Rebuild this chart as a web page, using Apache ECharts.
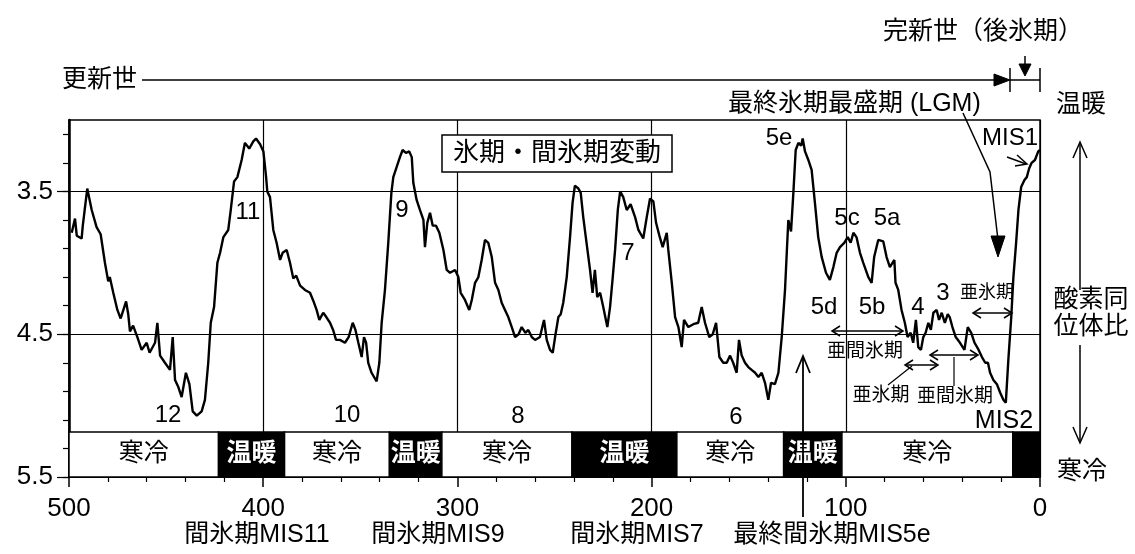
<!DOCTYPE html>
<html>
<head>
<meta charset="utf-8">
<script src="https://cdn.jsdelivr.net/npm/echarts@6/dist/echarts.min.js"></script>
<style>
  html, body { margin: 0; padding: 0; background: #fff; }
  #chart { width: 1135px; height: 554px; }
</style>
</head>
<body>
<div id="chart"></div>
<script>
// age in ka (thousand years ago)
const ages = [
  498.6, 496.9, 496.0, 493.5, 492.9, 490.6, 488.3, 485.8, 483.7, 481.5, 479.8, 479.0, 477.2, 475.1, 473.4, 472.0,
  470.6, 469.5, 468.6, 467.0, 464.8, 462.6, 460.0, 458.5, 455.7, 454.5, 453.1, 450.6, 448.0, 446.6, 445.4, 443.7,
  442.0, 439.8, 438.0, 436.3, 434.2, 431.7, 430.0, 428.3, 427.0, 425.3, 423.6, 422.2, 420.5, 418.0, 416.7, 415.0,
  413.3, 411.1, 409.4, 407.2, 405.1, 403.7, 401.6, 399.9, 398.5, 397.9, 396.5, 394.8, 393.1, 391.3, 390.0, 387.9,
  386.2, 384.5, 383.0, 381.0, 378.5, 375.9, 373.8, 372.5, 371.1, 369.1, 367.5, 365.6, 364.0, 362.5, 360.5, 357.9,
  356.0, 353.9, 352.5, 351.0, 349.3, 348.1, 347.0, 345.9, 344.2, 341.6, 340.2, 339.0, 337.3, 335.6, 334.0, 333.0,
  331.3, 329.6, 328.2, 326.5, 324.8, 323.5, 322.7, 321.0, 319.3, 317.5, 316.7, 315.5, 314.1, 312.7, 311.0, 309.3,
  307.2, 305.5, 303.8, 301.2, 299.5, 298.3, 296.1, 293.9, 292.6, 290.9, 289.2, 287.5, 285.8, 284.1, 282.3, 280.6,
  278.9, 277.2, 275.5, 273.8, 272.0, 270.3, 268.5, 266.9, 265.0, 263.5, 261.7, 260.0, 257.5, 255.4, 254.0, 252.3,
  250.9, 249.7, 248.0, 246.8, 245.5, 243.7, 242.0, 240.7, 239.5, 237.7, 236.5, 235.2, 233.5, 231.7, 230.4, 229.2,
  228.0, 226.5, 224.9, 222.8, 221.4, 220.0, 218.8, 217.4, 216.2, 214.6, 212.8, 210.8, 208.5, 206.8, 204.3, 202.5,
  200.8, 199.1, 197.7, 196.0, 194.3, 192.2, 191.4, 189.6, 187.9, 186.2, 184.5, 183.3, 181.1, 178.5, 176.0, 174.2,
  172.5, 170.3, 168.5, 166.8, 165.1, 163.1, 161.3, 159.6, 158.0, 156.2, 155.0, 153.6, 151.9, 150.2, 148.5, 146.7,
  145.0, 143.3, 141.6, 139.9, 138.5, 136.5, 134.7, 133.0, 131.3, 129.6, 128.2, 127.0, 125.8, 124.4, 123.0, 122.2,
  121.0, 119.3, 117.6, 115.9, 114.2, 112.4, 110.2, 108.2, 106.4, 104.7, 103.0, 100.8, 99.0, 97.5, 96.1, 94.5,
  92.7, 91.0, 88.4, 86.7, 85.4, 83.3, 80.7, 79.0, 77.3, 75.0, 74.4, 73.0, 71.3, 69.6, 68.2, 66.6,
  65.3, 63.9, 62.7, 61.3, 60.1, 58.9, 57.5, 56.2, 54.9, 53.2, 52.0, 50.6, 49.0, 47.5, 46.5, 45.1,
  43.4, 41.2, 38.9, 37.2, 35.4, 33.7, 31.6, 29.9, 28.2, 26.8, 25.7, 24.0, 22.2, 20.5, 18.8, 17.6,
  16.3, 14.8, 13.7, 12.3, 11.1, 9.7, 8.0, 6.8, 5.6, 4.3, 2.6, 0.9, 0.0
];
// oxygen isotope ratio (per mil)
const d18O = [
  3.79, 3.69, 3.81, 3.83, 3.74, 3.48, 3.63, 3.75, 3.80, 4.00, 4.13, 4.10, 4.21, 4.33, 4.39, 4.33,
  4.27, 4.36, 4.48, 4.44, 4.52, 4.61, 4.56, 4.63, 4.56, 4.42, 4.65, 4.70, 4.75, 4.52, 4.82, 4.87,
  4.94, 4.77, 4.85, 5.04, 5.07, 5.04, 4.96, 4.70, 4.42, 4.31, 4.00, 3.93, 3.82, 3.77, 3.63, 3.43,
  3.40, 3.28, 3.16, 3.20, 3.15, 3.13, 3.17, 3.22, 3.40, 3.50, 3.54, 3.77, 3.86, 3.98, 3.93, 3.91,
  4.00, 4.11, 4.09, 4.16, 4.19, 4.21, 4.28, 4.33, 4.40, 4.35, 4.38, 4.42, 4.47, 4.54, 4.54, 4.56,
  4.52, 4.42, 4.47, 4.56, 4.66, 4.52, 4.56, 4.70, 4.77, 4.83, 4.70, 4.42, 4.19, 3.86, 3.51, 3.40,
  3.33, 3.26, 3.21, 3.23, 3.22, 3.26, 3.44, 3.56, 3.63, 3.70, 3.89, 3.72, 3.65, 3.74, 3.74, 3.79,
  3.91, 4.05, 4.07, 4.05, 4.10, 4.21, 4.26, 4.33, 4.26, 4.14, 4.10, 3.98, 3.84, 3.86, 3.96, 4.14,
  4.19, 4.28, 4.33, 4.38, 4.45, 4.52, 4.50, 4.45, 4.49, 4.47, 4.52, 4.54, 4.52, 4.40, 4.54, 4.61,
  4.63, 4.52, 4.38, 4.36, 4.28, 4.10, 3.82, 3.58, 3.46, 3.48, 3.51, 3.68, 3.86, 4.05, 4.21, 4.05,
  4.24, 4.21, 4.31, 4.45, 4.31, 4.10, 3.91, 3.63, 3.50, 3.54, 3.63, 3.59, 3.68, 3.77, 3.83, 3.68,
  3.55, 3.57, 3.72, 3.81, 3.89, 3.79, 3.91, 4.14, 4.38, 4.45, 4.59, 4.40, 4.45, 4.43, 4.42, 4.31,
  4.42, 4.52, 4.50, 4.42, 4.66, 4.70, 4.70, 4.65, 4.70, 4.77, 4.54, 4.65, 4.70, 4.73, 4.75, 4.77,
  4.80, 4.77, 4.84, 4.96, 4.84, 4.85, 4.77, 4.52, 4.19, 3.70, 3.78, 3.51, 3.21, 3.16, 3.18, 3.13,
  3.22, 3.28, 3.35, 3.58, 3.82, 3.96, 4.07, 4.12, 4.03, 3.93, 3.89, 3.86, 3.82, 3.86, 3.79, 3.82,
  3.93, 4.00, 4.10, 4.14, 3.96, 3.84, 3.85, 3.96, 4.03, 3.98, 4.14, 4.19, 4.33, 4.42, 4.52, 4.49,
  4.56, 4.40, 4.59, 4.61, 4.52, 4.49, 4.42, 4.47, 4.35, 4.33, 4.40, 4.35, 4.42, 4.36, 4.38, 4.45,
  4.52, 4.56, 4.61, 4.45, 4.49, 4.56, 4.61, 4.66, 4.70, 4.70, 4.77, 4.82, 4.85, 4.91, 4.96, 4.98,
  4.68, 4.38, 4.10, 3.86, 3.63, 3.47, 3.42, 3.40, 3.34, 3.30, 3.28, 3.22, 3.21
];

// climate bands along the bottom of the plot
const bandFrom  = [500, 423, 389, 335, 308, 241, 187, 132, 102, 14];
const bandTo    = [423, 389, 335, 308, 241, 187, 132, 102, 14, 0];
const bandLabel = ['寒冷', '温暖', '寒冷', '温暖', '寒冷', '温暖', '寒冷', '温暖', '寒冷', ''];
const bandWarm  = [false, true, false, true, false, true, false, true, false, true];
const bandTop = 5.185;

const FONT = '"Liberation Sans", "Noto Sans CJK JP", sans-serif';

const chart = echarts.init(document.getElementById('chart'));

const curve = ages.map((a, i) => [a, d18O[i]]);

const bands = bandFrom.map((f, i) => [
  {
    xAxis: f, yAxis: bandTop, name: bandLabel[i],
    itemStyle: { color: bandWarm[i] ? '#000' : '#fff', borderColor: '#000', borderWidth: 1.5, opacity: 1 },
    label: { color: bandWarm[i] ? '#fff' : '#000', fontWeight: bandWarm[i] ? 'bold' : 'normal' }
  },
  { xAxis: bandTo[i], yAxis: 5.5 }
]);

// annotation helpers
function txt(s, x, y, size, align) {
  return {
    type: 'text', x: x, y: y, z: 10,
    style: {
      text: s, fill: '#000', font: (size || 25) + 'px ' + FONT,
      textAlign: align || 'center', textVerticalAlign: 'middle'
    }
  };
}
function pl(points, w) {
  return { type: 'polyline', z: 10, shape: { points: points }, style: { stroke: '#000', lineWidth: w || 1.5, fill: null } };
}
function tri(points) {
  return { type: 'polygon', z: 10, shape: { points: points }, style: { fill: '#000', stroke: '#000', lineWidth: 1 } };
}
function dbl(x1, x2, y) {
  return [
    pl([[x1, y], [x2, y]], 1.5),
    pl([[x1 + 8, y - 5], [x1, y], [x1 + 8, y + 5]], 1.5),
    pl([[x2 - 8, y - 5], [x2, y], [x2 - 8, y + 5]], 1.5)
  ];
}

const graphics = [
  // epoch line on top
  txt('更新世', 62, 80, 25, 'left'),
  pl([[142, 80], [1000, 80]], 1.5),
  tri([[994, 74], [1010, 80], [994, 86]]),
  pl([[1010, 80], [1040, 80]], 1.5),
  pl([[1010, 68], [1010, 92]], 1.5),
  pl([[1040, 68], [1040, 92]], 1.5),
  pl([[1025, 56], [1025, 74]], 1.5),
  tri([[1019, 64], [1025, 76], [1031, 64]]),
  txt('完新世（後氷期）', 983, 32, 25),
  txt('最終氷期最盛期 (LGM)', 728, 104, 25, 'left'),
  pl([[963, 113], [990, 172], [998, 240]], 1.5),
  tri([[991, 236], [998, 257], [1005, 236]]),
  txt('MIS1', 1010, 138, 24),
  pl([[1007, 157], [1026, 164]], 1.5),
  pl([[1017, 155], [1027, 164], [1015, 166]], 1.5),
  // right side
  txt('温暖', 1081, 105, 25),
  txt('寒冷', 1082, 472, 25),
  txt('酸素同', 1091, 300, 25),
  txt('位体比', 1091, 327, 25),
  pl([[1080, 143], [1080, 290]], 1.5),
  pl([[1073, 158], [1080, 142], [1087, 158]], 1.5),
  pl([[1080, 345], [1080, 442]], 1.5),
  pl([[1073, 427], [1080, 443], [1087, 427]], 1.5),
  // title box
  { type: 'rect', z: 9, shape: { x: 442, y: 135, width: 230, height: 37 }, style: { fill: '#fff', stroke: '#000', lineWidth: 1.5 } },
  txt('氷期・間氷期変動', 557, 154, 26),
  // MIS stage numbers
  txt('11', 248, 212, 24),
  txt('12', 168, 415, 24),
  txt('10', 347, 415, 24),
  txt('9', 402, 210, 24),
  txt('8', 518, 416, 24),
  txt('7', 628, 253, 24),
  txt('6', 736, 417, 24),
  txt('5e', 779, 138, 24),
  txt('5c', 847, 218, 24),
  txt('5a', 887, 218, 24),
  txt('5d', 824, 307, 24),
  txt('5b', 872, 307, 24),
  txt('4', 918, 307, 24),
  txt('3', 943, 293, 24),
  txt('亜氷期', 987, 293, 18),
  ...dbl(973, 1012, 313),
  ...dbl(832, 903, 331),
  txt('亜間氷期', 865, 352, 19),
  ...dbl(905, 938, 365),
  ...dbl(930, 978, 355),
  pl([[888, 385], [912, 366]], 1.2),
  pl([[954, 357], [954, 386]], 1.2),
  txt('亜氷期', 881, 396, 19),
  txt('亜間氷期', 955, 397, 19),
  txt('MIS2', 1004, 421, 25),
  // last interglacial arrow
  pl([[803, 517], [803, 358]], 1.8),
  pl([[796, 373], [803, 356], [810, 373]], 1.8),
  // bottom captions
  txt('間氷期MIS11', 257, 535, 25),
  txt('間氷期MIS9', 438, 535, 25),
  txt('間氷期MIS7', 637, 535, 25),
  txt('最終間氷期MIS5e', 832, 535, 25)
];

const gridBase = { left: 69, right: 95, bottom: 77 };

const option = {
  animation: false,
  backgroundColor: '#fff',
  textStyle: { fontFamily: FONT },
  grid: [
    Object.assign({ top: 120, show: true, borderColor: '#000', borderWidth: 1.5 }, gridBase),
    Object.assign({ top: 134.28 }, gridBase),
    Object.assign({ top: 191.4 }, gridBase)
  ],
  xAxis: [
    {
      gridIndex: 0, type: 'value', min: 0, max: 500, interval: 100, inverse: true,
      axisLine: { show: true, onZero: false, lineStyle: { color: '#000', width: 2 } },
      axisTick: { show: true, length: 10, lineStyle: { color: '#000', width: 1.5 } },
      minorTick: { show: true, splitNumber: 5, length: 5, lineStyle: { color: '#000', width: 1.2 } },
      axisLabel: { fontSize: 26, color: '#000', margin: 19, fontFamily: FONT },
      splitLine: { show: true, lineStyle: { color: '#000', width: 1.2 } }
    },
    { gridIndex: 1, type: 'value', min: 0, max: 500, inverse: true, show: false },
    { gridIndex: 2, type: 'value', min: 0, max: 500, inverse: true, show: false }
  ],
  yAxis: [
    {
      gridIndex: 0, type: 'value', min: 3.0, max: 5.5, inverse: true, position: 'left',
      axisLine: { show: true, onZero: false, lineStyle: { color: '#000', width: 2.5 } },
      axisTick: { show: false }, axisLabel: { show: false }, splitLine: { show: false }
    },
    {
      gridIndex: 1, type: 'value', min: 3.1, max: 5.5, interval: 0.2, inverse: true, position: 'left',
      axisLine: { show: false, onZero: false },
      axisTick: { show: true, length: 6, lineStyle: { color: '#000', width: 1.2 } },
      axisLabel: { show: false }, splitLine: { show: false }
    },
    {
      gridIndex: 2, type: 'value', min: 3.5, max: 5.5, interval: 1, inverse: true, position: 'left',
      axisLine: { show: false, onZero: false },
      axisTick: { show: true, length: 12, lineStyle: { color: '#000', width: 1.2 } },
      axisLabel: { fontSize: 26, color: '#000', margin: 16, fontFamily: FONT, formatter: v => v.toFixed(1) },
      splitLine: { show: true, lineStyle: { color: '#000', width: 1.2 } }
    }
  ],
  series: [
    {
      type: 'line', xAxisIndex: 0, yAxisIndex: 0, data: curve, showSymbol: false, z: 5,
      lineStyle: { color: '#000', width: 2.4 },
      markArea: {
        silent: true, z: 6,
        label: { show: true, position: 'inside', fontSize: 25, fontFamily: FONT },
        data: bands
      }
    },
    { type: 'line', xAxisIndex: 1, yAxisIndex: 1, data: [] },
    { type: 'line', xAxisIndex: 2, yAxisIndex: 2, data: [] }
  ],
  graphic: graphics
};

chart.setOption(option);
</script>
</body>
</html>
